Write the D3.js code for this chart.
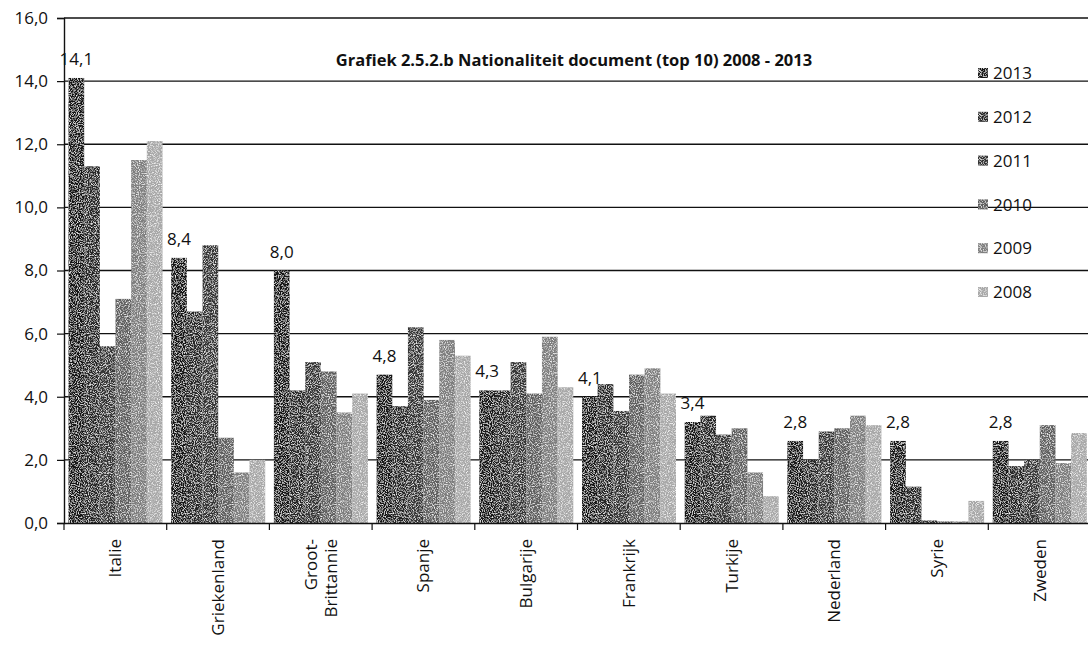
<!DOCTYPE html>
<html><head><meta charset="utf-8">
<script src="https://cdn.jsdelivr.net/npm/d3@7"></script>
<style>
html,body{margin:0;padding:0;background:#fff;}
svg{display:block;}
text{font-family:"Open Sans",Lato,sans-serif;fill:#111;}
</style></head>
<body><svg id="c" width="1088" height="645"></svg>
<script>
const categories = ["Italie","Griekenland","Groot-Brittannie","Spanje","Bulgarije","Frankrijk","Turkije","Nederland","Syrie","Zweden"];
const categoryLines = [["Italie"],["Griekenland"],["Groot-","Brittannie"],["Spanje"],["Bulgarije"],["Frankrijk"],["Turkije"],["Nederland"],["Syrie"],["Zweden"]];
const seriesNames = ["2013","2012","2011","2010","2009","2008"];
const v2013 = [14.1, 8.4, 8.0, 4.7, 4.2, 4.0, 3.2, 2.6, 2.6, 2.6];
const v2012 = [11.3, 6.7, 4.2, 3.7, 4.2, 4.4, 3.4, 2.0, 1.15, 1.8];
const v2011 = [5.6, 8.8, 5.1, 6.2, 5.1, 3.55, 2.8, 2.9, 0.08, 2.0];
const v2010 = [7.1, 2.7, 4.8, 3.9, 4.1, 4.7, 3.0, 3.0, 0.05, 3.1];
const v2009 = [11.5, 1.6, 3.5, 5.8, 5.9, 4.9, 1.6, 3.4, 0.05, 1.9];
const v2008 = [12.1, 2.0, 4.1, 5.3, 4.3, 4.1, 0.85, 3.1, 0.7, 2.85];
const labels2013 = ["14,1","8,4","8,0","4,8","4,3","4,1","3,4","2,8","2,8","2,8"];
const yTicks = [0,2,4,6,8,10,12,14,16];
const title = "Grafiek 2.5.2.b Nationaliteit document (top 10) 2008 - 2013";

const seriesValues = [v2013,v2012,v2011,v2010,v2009,v2008];
const colors = ["#141414","#262626","#353535","#5e5e5e","#7e7e7e","#a8a8a8"];

const svg = d3.select("#c");
const AX = 64;
const x0 = d3.scaleBand().domain(categories).range([AX,AX+1027]).padding(0);
const x1 = d3.scaleBand().domain(seriesNames).range([4.5, 98.5]).padding(0);
const y = d3.scaleLinear().domain([0,16]).range([523,18]);
const color = d3.scaleOrdinal().domain(seriesNames).range(colors);

// noise filter
const defs = svg.append("defs");
const f = defs.append("filter").attr("id","grain").attr("x","0").attr("y","0").attr("width","1").attr("height","1");
f.append("feTurbulence").attr("type","fractalNoise").attr("baseFrequency","0.9").attr("numOctaves","2").attr("seed","3").attr("result","n");
f.append("feColorMatrix").attr("in","n").attr("type","matrix")
  .attr("values","0 0 0 0 1  0 0 0 0 1  0 0 0 0 1  0 0 0 -2.4 1.3").attr("result","spk");
f.append("feComposite").attr("in","spk").attr("in2","SourceGraphic").attr("operator","in").attr("result","sp");
f.append("feMerge").call(m=>{m.append("feMergeNode").attr("in","SourceGraphic");m.append("feMergeNode").attr("in","sp");});

// gridlines
svg.append("g").selectAll("line").data(yTicks.filter(d=>d>0)).join("line")
  .attr("x1",AX).attr("x2",1088).attr("y1",d=>y(d)).attr("y2",d=>y(d))
  .attr("stroke","#111").attr("stroke-width",1.4);

// y axis
const yAxis = d3.axisLeft(y).tickValues(yTicks).tickSize(7).tickPadding(9)
  .tickFormat(d=>d3.format(".1f")(d).replace(".",","));
const gy = svg.append("g").attr("transform",`translate(${AX},0)`).call(yAxis);
gy.select(".domain").attr("stroke","#111").attr("stroke-width",1.4);
gy.selectAll(".tick line").attr("stroke","#111").attr("stroke-width",1.2);
gy.selectAll(".tick text").style("font-size","17px").style("font-family","'Open Sans',sans-serif").attr("fill","#111");

// bars
const groups = svg.append("g").selectAll("g").data(categories).join("g")
  .attr("transform",d=>`translate(${x0(d)},0)`);
groups.selectAll("rect").data((c,i)=>seriesNames.map((s,j)=>({s, v:seriesValues[j][i]}))).join("rect")
  .attr("x",d=>x1(d.s)).attr("width",x1.bandwidth())
  .attr("y",d=>y(d.v)).attr("height",d=>y(0)-y(d.v))
  .attr("fill",d=>color(d.s)).attr("filter","url(#grain)");

// data labels 2013
groups.append("text").text((c,i)=>labels2013[i])
  .attr("x",x1("2013")+x1.bandwidth()/2)
  .attr("y",(c,i)=>y(v2013[i])-13)
  .attr("text-anchor","middle").style("font-size","17px");

// x axis
const xAxis = d3.axisBottom(x0).tickSize(0).tickFormat("");
const gx = svg.append("g").attr("transform","translate(0,523)").call(xAxis);
gx.select(".domain").attr("stroke","#111").attr("stroke-width",1.4);
svg.append("g").selectAll("line").data(categories).join("line")
  .attr("x1",d=>x0(d)).attr("x2",d=>x0(d)).attr("y1",523).attr("y2",530)
  .attr("stroke","#111").attr("stroke-width",1.2);

// category labels
const cl = svg.append("g").selectAll("text").data(categories).join("text")
  .attr("transform",d=>`translate(${x0(d)+x0.bandwidth()/2},539) rotate(-90)`)
  .attr("text-anchor","end").style("font-size","17px");
cl.each(function(d,i){
  const lines = categoryLines[i];
  const t = d3.select(this);
  lines.forEach((ln,k)=>{
    t.append("tspan").attr("x",0).attr("y",(k-(lines.length-1)/2)*20+6).text(ln);
  });
});

// title
svg.append("text").text(title).attr("x",574).attr("y",66).attr("text-anchor","middle")
  .style("font-size","16.5px").style("font-weight","bold");

// legend
const lg = svg.append("g").selectAll("g").data(seriesNames).join("g")
  .attr("transform",(d,i)=>`translate(978,${73+i*43.8})`);
lg.append("rect").attr("x",0).attr("y",-5).attr("width",10).attr("height",10).attr("fill",d=>color(d)).attr("filter","url(#grain)");
lg.append("text").text(d=>d).attr("x",15).attr("y",0).attr("dy","0.36em").style("font-size","17px");
</script></body></html>
